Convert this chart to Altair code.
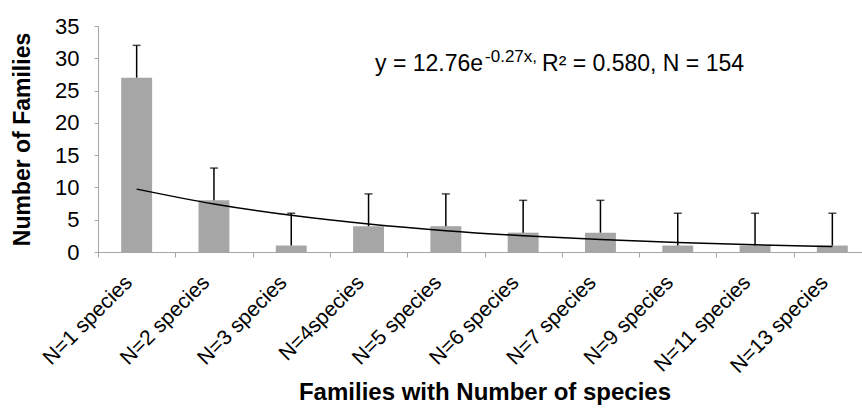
import altair as alt
import pandas as pd

# ---- data ----
categories = ["N=1 species", "N=2 species", "N=3 species", "N=4species", "N=5 species",
              "N=6 species", "N=7 species", "N=9 species", "N=11 species", "N=13 species"]
families = [27, 8, 1, 4, 4, 3, 3, 1, 1, 1]
upper = [32, 13, 6, 9, 9, 8, 8, 6, 6, 6]
fit_a = 12.76
fit_b = -0.27
ann_main = "y = 12.76e"
ann_sup = "-0.27x,"
ann_rest = "R² = 0.580, N = 154"

df = pd.DataFrame({
    "cat": categories,
    "families": families,
    "upper": upper,
    "pos": list(range(1, len(categories) + 1)),
})
one_row = pd.DataFrame({"k": [0]})

FONT = "Liberation Sans"
AXIS_GRAY = "#a6a6a6"
Y_TICKS = [0, 5, 10, 15, 20, 25, 30, 35]

x_enc = alt.X(
    "cat:N",
    sort=categories,
    scale=alt.Scale(range=[0, 773], paddingInner=0, paddingOuter=0),
    axis=alt.Axis(
        title="Families with Number of species",
        labelAngle=-45,
        labelAlign="right",
        labelBaseline="middle",
        labelOffset=-8,
        tickBand="extent",
        domainColor=AXIS_GRAY,
        tickColor=AXIS_GRAY,
        tickSize=5,
        labelPadding=22,
        labelFont=FONT,
        labelFontSize=21,
        labelColor="black",
        titleFont=FONT,
        titleFontSize=24,
        titleFontWeight="bold",
        titleColor="black",
        titleX=386.5,
        titleY=140,
        titleBaseline="middle",
    ),
)

y_axis = alt.Axis(
    title="Number of Families",
    values=Y_TICKS,
    tickCount=8,
    grid=False,
    domainColor=AXIS_GRAY,
    tickColor=AXIS_GRAY,
    tickSize=4,
    labelPadding=15,
    labelFont=FONT,
    labelFontSize=22,
    labelColor="black",
    titleFont=FONT,
    titleFontSize=23,
    titleFontWeight="bold",
    titleColor="black",
    titleX=-76,
    titleY=113,
    titleBaseline="middle",
)
y_scale = alt.Scale(domain=[0, 35], nice=False)


def yq(field):
    return alt.Y(field, type="quantitative", scale=y_scale, axis=y_axis)


base = alt.Chart(df).encode(x=x_enc)

bars = base.mark_bar(color="#a6a6a6", width=alt.RelativeBandSize(0.4)).encode(
    y=yq("families")
)

err = base.mark_rule(color="black", strokeWidth=1.5).encode(
    y=yq("families"), y2="upper:Q"
)

caps = base.mark_tick(color="black", size=8, thickness=1.5).encode(
    y=yq("upper")
)

trend = base.transform_calculate(
    trend=f"{fit_a} * exp({fit_b} * datum.pos)"
).mark_line(color="black", strokeWidth=1.5, interpolate="monotone").encode(
    y=yq("trend")
)

anchor_x = alt.datum("N=4species")
anchor_y = alt.datum(28.0)

t1 = alt.Chart(one_row).mark_text(
    text=ann_main, align="left", baseline="alphabetic", font=FONT, fontSize=23,
    color="black", dx=6.5
).encode(x=anchor_x, y=anchor_y)
t2 = alt.Chart(one_row).mark_text(
    text=ann_sup, align="left", baseline="alphabetic", font=FONT, fontSize=17,
    color="black", dx=116.5, dy=-9
).encode(x=anchor_x, y=anchor_y)
t3 = alt.Chart(one_row).mark_text(
    text=ann_rest, align="left", baseline="alphabetic", font=FONT, fontSize=23,
    color="black", dx=173.5
).encode(x=anchor_x, y=anchor_y)

chart = alt.layer(bars, err, caps, trend, t1, t2, t3).properties(
    width=764,
    height=226,
    autosize=alt.AutoSizeParams(type="none"),
    padding={"left": 98, "top": 26, "right": 0, "bottom": 157},
    background="white",
).configure_view(stroke=None)

chart.save("out.html", embed_options={"renderer": "svg", "actions": False})
